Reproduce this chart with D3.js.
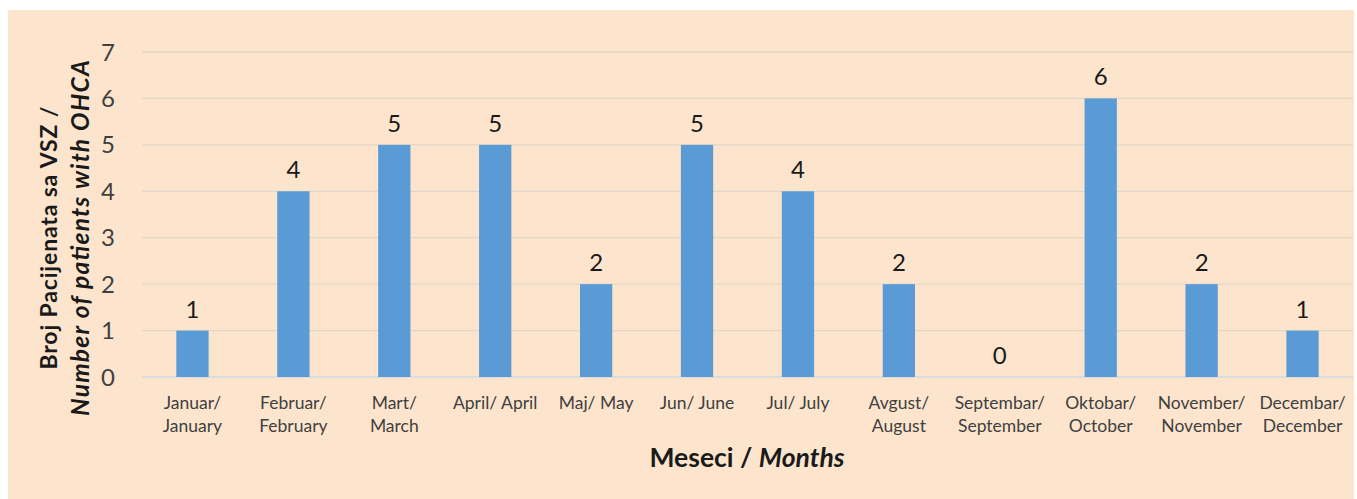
<!DOCTYPE html>
<html>
<head>
<meta charset="utf-8">
<script src="https://cdn.jsdelivr.net/npm/d3@7"></script>
<style>
  body { margin: 0; background: #fff; }
  svg text { font-family: Lato, "Open Sans", sans-serif; }
</style>
</head>
<body>
<div id="graph"></div>
<script>
// data
var monthsLocal = ['Januar/', 'Februar/', 'Mart/', 'April/ April', 'Maj/ May', 'Jun/ June', 'Jul/ July', 'Avgust/', 'Septembar/', 'Oktobar/', 'November/', 'Decembar/']
var monthsEng = ['January', 'February', 'March', '', '', '', '', 'August', 'September', 'October', 'November', 'December']
var counts = [1, 4, 5, 5, 2, 5, 4, 2, 0, 6, 2, 1]
var yTicks = [0, 1, 2, 3, 4, 5, 6, 7]

var W = 1357, H = 499
var margin = {top: 52, left: 142, right: 4, bottom: 122}

var svg = d3.select('#graph').append('svg')
  .attr('width', W).attr('height', H)

svg.append('rect')
  .attr('x', 8).attr('y', 10).attr('width', 1346).attr('height', 489)
  .attr('fill', '#fde5cd')

var g = svg.append('g').attr('transform', `translate(${margin.left},${margin.top})`)
var width = W - margin.left - margin.right
var height = H - margin.top - margin.bottom

var x = d3.scaleBand().domain(d3.range(counts.length)).range([0, width]).paddingInner(0.68).paddingOuter(0.34)
var y = d3.scaleLinear().domain([0, 7]).range([height, 0])

// gridlines
g.selectAll('line.grid').data(yTicks).join('line')
  .attr('class', 'grid')
  .attr('x1', 0).attr('x2', width)
  .attr('y1', d => y(d)).attr('y2', d => y(d))
  .attr('stroke', d => d ? '#e3d6c8' : '#d0d8e0')
  .attr('stroke-width', 1.3)

// y tick labels
g.selectAll('text.ytick').data(yTicks).join('text')
  .attr('class', 'ytick')
  .attr('x', -27).attr('y', d => y(d))
  .attr('dy', '0.36em')
  .attr('text-anchor', 'end')
  .attr('font-size', 24)
  .attr('fill', '#404040')
  .text(d => d)

// bars
g.selectAll('rect.bar').data(counts).join('rect')
  .attr('class', 'bar')
  .attr('x', (d, i) => x(i))
  .attr('width', x.bandwidth())
  .attr('y', d => y(d))
  .attr('height', d => height - y(d))
  .attr('fill', '#5b9bd5')

// value labels
g.selectAll('text.val').data(counts).join('text')
  .attr('class', 'val')
  .attr('x', (d, i) => x(i) + x.bandwidth() / 2)
  .attr('y', d => y(d) - 13)
  .attr('text-anchor', 'middle')
  .attr('font-size', 24)
  .attr('fill', '#1a1a1a')
  .text(d => d)

// x labels, two lines
var xl = g.selectAll('text.xtick').data(monthsLocal).join('text')
  .attr('class', 'xtick')
  .attr('text-anchor', 'middle')
  .attr('font-size', 17.5)
  .attr('fill', '#404040')
  .attr('transform', (d, i) => `translate(${x(i) + x.bandwidth() / 2},${height + 32})`)
xl.append('tspan').attr('x', 0).attr('y', 0).text(d => d)
xl.append('tspan').attr('x', 0).attr('y', 23).text((d, i) => monthsEng[i])

// x axis title
var xt = svg.append('text')
  .attr('x', 747).attr('y', 467)
  .attr('text-anchor', 'middle')
  .attr('font-size', 26.5)
  .attr('font-weight', 'bold')
  .attr('fill', '#1a1a1a')
xt.append('tspan').text('Meseci / ')
xt.append('tspan').attr('font-style', 'italic').text('Months')

// y axis title
var yt = svg.append('text')
  .attr('transform', 'translate(0,238) rotate(-90)')
  .attr('text-anchor', 'middle')
  .attr('font-size', 23)
  .attr('font-weight', 'bold')
  .attr('fill', '#1a1a1a')
yt.append('tspan').attr('x', 0).attr('y', 57).attr('textLength', 263).text('Broj Pacijenata sa VSZ /')
yt.append('tspan').attr('x', 0).attr('y', 89).attr('font-style', 'italic').attr('font-size', 24.5).attr('textLength', 356).text('Number of patients with OHCA')
</script>
</body>
</html>
